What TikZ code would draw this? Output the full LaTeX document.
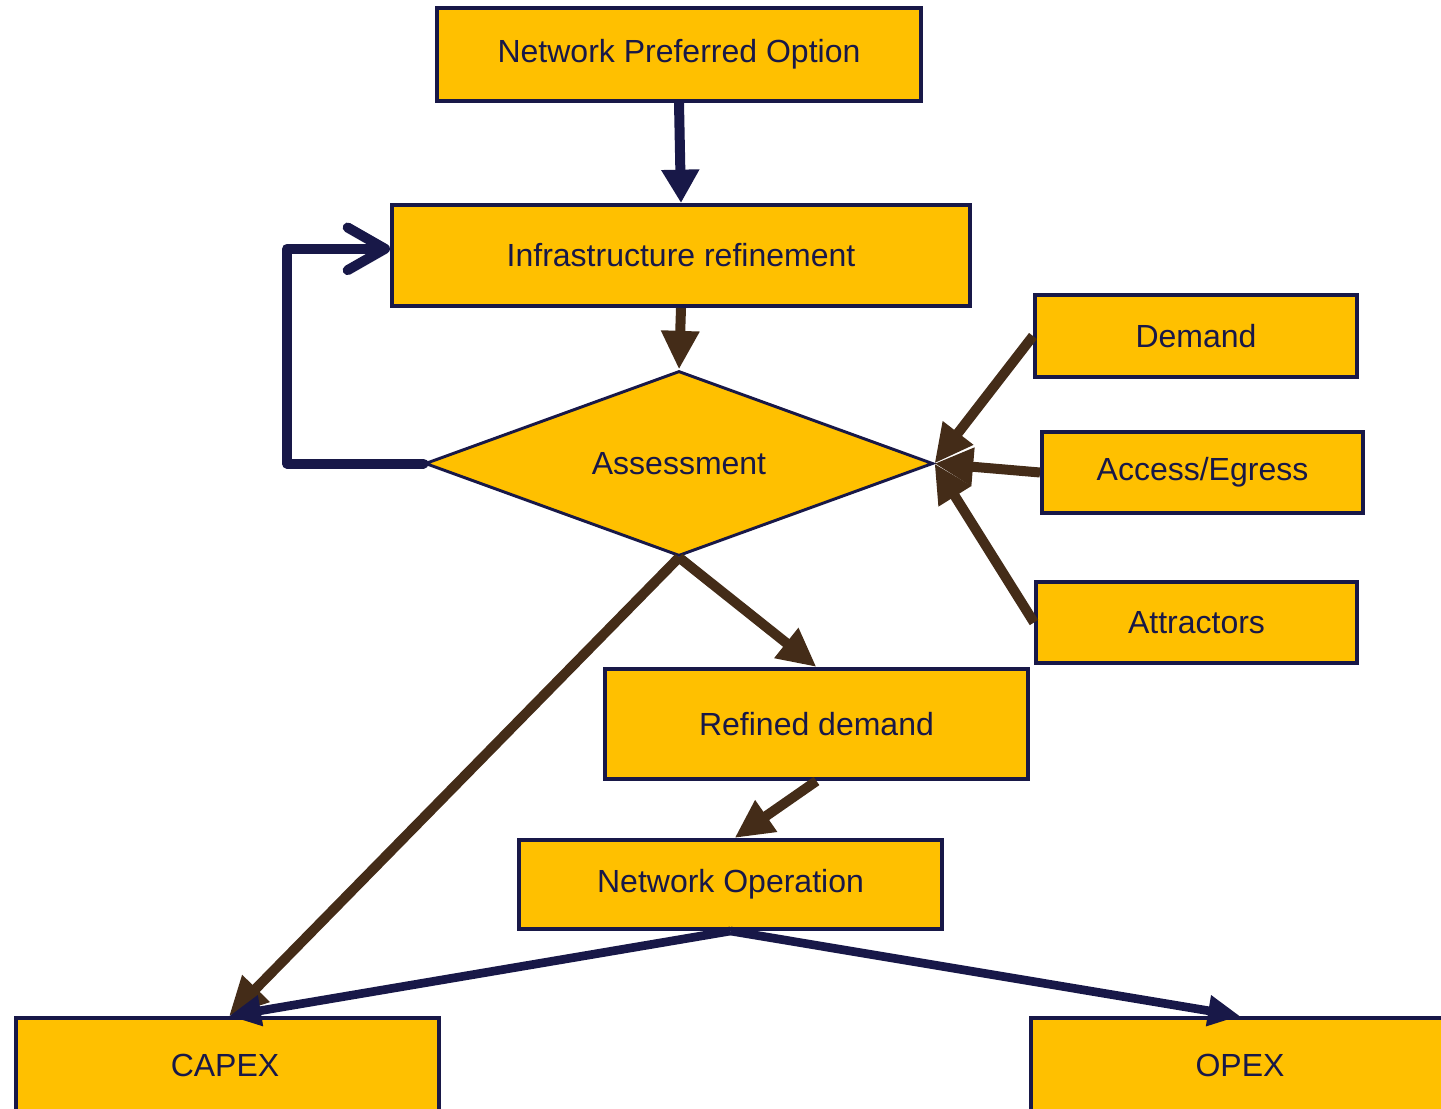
\documentclass[tikz,border=0pt]{standalone}
\usepackage{fontspec}
\setmainfont{Liberation Sans}
\usepackage{tikz}
\usetikzlibrary{arrows.meta, positioning, shapes.geometric}
\definecolor{BoxNavy}{RGB}{24, 24, 72}
\definecolor{BoxGold}{RGB}{255, 192, 0}
\definecolor{FlowBrown}{RGB}{68, 44, 24}

\tikzset{
  box/.style={draw=BoxNavy, fill=BoxGold, line width=3pt, text=BoxNavy,
              font=\fontsize{24}{28}\selectfont, inner sep=0pt},
  decision/.style={diamond, draw=BoxNavy, fill=BoxGold, line width=2.2pt, text=BoxNavy,
              font=\fontsize{24}{28}\selectfont, inner sep=0pt, aspect=2.7},
  navyflow/.style={draw=BoxNavy, line width=7.5pt, -{Triangle[length=25pt,width=27pt]}},
  brownflow/.style={draw=FlowBrown, line width=7.5pt, -{Triangle[length=29pt,width=27pt]}},
  costflow/.style={draw=BoxNavy, line width=6.5pt, -{Triangle[length=24pt,width=22pt]}},
  loopflow/.style={draw=BoxNavy, line width=7.5pt, line join=round, line cap=round,
              -{Straight Barb[length=28pt,width=32pt,round]}}
}

\begin{document}
\begin{tikzpicture}[x=0.75pt, y=-0.75pt]
  \useasboundingbox (0,0) rectangle (1441,1109);
  \clip (0,0) rectangle (1441,1109);

  % boxes
  \node[box, minimum width=363pt, minimum height=69.75pt] (npo) at (679,54.5) {Network Preferred Option};
  \node[box, minimum width=433.5pt, minimum height=75.75pt] (infra) at (681,255.5) {Infrastructure refinement};
  \node[decision, minimum width=381pt, minimum height=138.75pt] (assess) at (679,463.5) {Assessment};
  \node[box, minimum width=241.5pt, minimum height=61.5pt] (demand) at (1196,336) {Demand};
  \node[box, minimum width=240.75pt, minimum height=60.75pt] (access) at (1202.5,472.5) {Access/Egress};
  \node[box, minimum width=240.75pt, minimum height=60.75pt] (attract) at (1196.5,622.5) {Attractors};
  \node[box, minimum width=317.25pt, minimum height=82.5pt] (refined) at (816.5,724) {Refined demand};
  \node[box, minimum width=317.25pt, minimum height=66.75pt] (netop) at (730.5,884.5) {Network Operation};
  \node[box, minimum width=317.25pt, minimum height=75pt, anchor=north west] (capex) at (14,1016) {};
  \node[text=BoxNavy, font=\fontsize{24}{28}\selectfont] (capexlbl) at (225,1065) {CAPEX};
  \node[box, minimum width=316pt, minimum height=75pt, anchor=north west] (opex) at (1029,1016) {};
  \node[text=BoxNavy, font=\fontsize{24}{28}\selectfont] (opexlbl) at (1240,1065) {OPEX};

  % connectors
  \draw[navyflow] (npo.south) -- (infra.north);
  \draw[brownflow] (infra.south) -- (assess.north);
  \coordinate (loopcorner) at (287,463.5);
  \draw[loopflow] (assess.west) -- (loopcorner) |- ([yshift=5pt]infra.west);
  \draw[brownflow] (demand.west) -- (assess.east);
  \draw[brownflow] (access.west) -- (assess.east);
  \draw[brownflow] (attract.west) -- (assess.east);
  \draw[brownflow] (assess.south) -- (refined.north);
  \draw[brownflow] (assess.south) -- ([xshift=3pt]capex.north -| capexlbl);
  \draw[brownflow] (refined.south) -- ([xshift=3pt]netop.north);
  \draw[costflow] (netop.south) -- ([xshift=3pt]capex.north -| capexlbl);
  \draw[costflow] (netop.south) -- (opex.north -| opexlbl);
\end{tikzpicture}
\end{document}
